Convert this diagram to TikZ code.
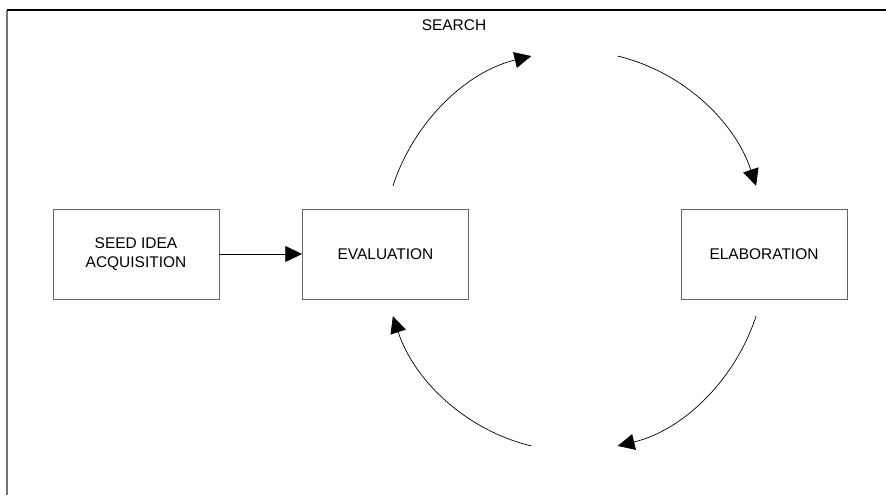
\documentclass[tikz,border=0pt]{standalone}
\usepackage{fontspec}
\setmainfont{Liberation Sans}
\usetikzlibrary{arrows.meta,positioning,calc}

\begin{document}
\begin{tikzpicture}[
  x=0.025cm, y=0.025cm,
  font=\fontsize{11}{13.6}\selectfont,
  >={Triangle[length=4.2mm, width=4mm]},
  box/.style={draw=black!60, line width=0.6pt, align=center, minimum width=4.15cm, minimum height=2.25cm, inner sep=0pt},
  ar/.style={->, line width=0.5pt},
  frame/.style={line width=0.8pt},
]
\useasboundingbox (0,0) rectangle (886,495);
\draw[frame, black!55] (7,0) -- (7,485);
\draw[frame, black] (7,485) -- (886,485);
\node (search) at (454,470) {SEARCH};
\node[box] (seed) at (136,241) {SEED IDEA\\ACQUISITION};
\node[box] (eval) at (385.5,241) {EVALUATION};
\node[box] (elab) at (764,241) {ELABORATION};
\coordinate (hub) at (574.5,244);
\draw[ar] (seed) -- (eval);
\draw[ar] ($(hub)+(161:4.8cm and 5cm)$) arc[start angle=161, end angle=103, x radius=4.8cm, y radius=5cm];
\draw[ar] ($(hub)+(77:4.8cm and 5cm)$) arc[start angle=77, end angle=19, x radius=4.8cm, y radius=5cm];
\draw[ar] ($(hub)+(-19:4.8cm and 5cm)$) arc[start angle=-19, end angle=-77, x radius=4.8cm, y radius=5cm];
\draw[ar] ($(hub)+(-103:4.8cm and 5cm)$) arc[start angle=-103, end angle=-161, x radius=4.8cm, y radius=5cm];
\end{tikzpicture}
\end{document}
